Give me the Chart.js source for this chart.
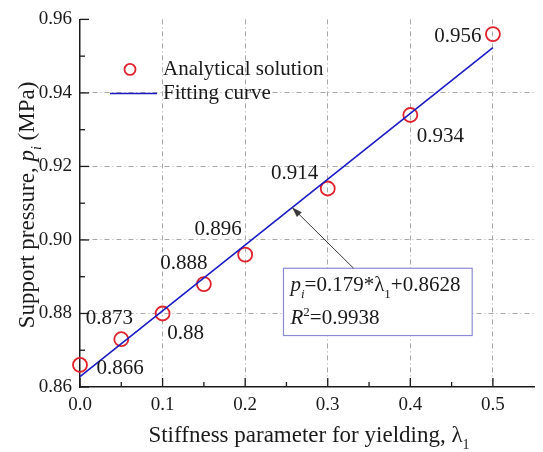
<!DOCTYPE html>
<html>
<head>
<meta charset="utf-8">
<script src="https://cdn.jsdelivr.net/npm/chart.js@4/dist/chart.umd.min.js"></script>
<style>
  html, body { margin: 0; padding: 0; background: #fff; }
  canvas { display: block; }
</style>
</head>
<body>
<canvas id="c" width="543" height="452"></canvas>
<script>
// Analytical support pressure against stiffness parameter
const stiffness = [0, 0.05, 0.1, 0.15, 0.2, 0.3, 0.4, 0.5];
const pressure = [0.866, 0.873, 0.88, 0.888, 0.896, 0.914, 0.934, 0.956];

// Linear fit p = 0.179*λ + 0.8628, end points
const fitStiffness = [0, 0.5];
const fitPressure = [0.8628, 0.9523];

// Axis ticks
const xTickValues = [0, 0.1, 0.2, 0.3, 0.4, 0.5];
const xTickLabels = ['0.0', '0.1', '0.2', '0.3', '0.4', '0.5'];
const xMinorValues = [0.05, 0.15, 0.25, 0.35, 0.45];
const yTickValues = [0.86, 0.88, 0.90, 0.92, 0.94, 0.96];
const yTickLabels = ['0.86', '0.88', '0.90', '0.92', '0.94', '0.96'];
const yMinorValues = [0.87, 0.89, 0.91, 0.93, 0.95];

// Where each value label sits relative to its point (px)
const labelOffsets = [[40, 4], [-12, -21], [23, 20], [-20, -21], [-27, -25], [-33, -15], [30, 22], [-35, 2]];

const SERIF = '"Liberation Serif", "Times New Roman", serif';
const INK = '#1a1a1a';
const RED = '#e0222c';
const BLUE = '#1a1ac4';

function measureRuns(ctx, runs, size) {
  let total = 0;
  const out = runs.map(r => {
    const s = (r.sub || r.sup) ? Math.round(size * 0.6) : size;
    const font = (r.italic ? 'italic ' : '') + s + 'px ' + SERIF;
    ctx.font = font;
    const width = ctx.measureText(r.t).width;
    total += width;
    return Object.assign({}, r, { font, width, dy: r.sub ? size * 0.3 : (r.sup ? -size * 0.38 : 0) });
  });
  return { out, total };
}

function drawRich(ctx, runs, x, y, size, align) {
  const { out, total } = measureRuns(ctx, runs, size);
  let cx = align === 'center' ? x - total / 2 : (align === 'right' ? x - total : x);
  ctx.textAlign = 'left';
  ctx.textBaseline = 'alphabetic';
  for (const r of out) {
    ctx.font = r.font;
    ctx.fillText(r.t, cx, y + r.dy);
    cx += r.width;
  }
}

const decorations = {
  id: 'decorations',
  afterDraw(chart) {
    const { ctx, chartArea: area } = chart;
    const xs = chart.scales.x, ys = chart.scales.y;
    ctx.save();

    // inward ticks
    ctx.strokeStyle = INK;
    ctx.lineWidth = 1.3;
    const tick = (x1, y1, x2, y2) => { ctx.beginPath(); ctx.moveTo(x1, y1); ctx.lineTo(x2, y2); ctx.stroke(); };
    xTickValues.forEach(v => { const p = xs.getPixelForValue(v); tick(p, area.bottom, p, area.bottom - 9); });
    xMinorValues.forEach(v => { const p = xs.getPixelForValue(v); tick(p, area.bottom, p, area.bottom - 5); });
    yTickValues.forEach(v => { const p = ys.getPixelForValue(v); tick(area.left, p, area.left + 9, p); });
    yMinorValues.forEach(v => { const p = ys.getPixelForValue(v); tick(area.left, p, area.left + 5, p); });

    // value labels
    const meta = chart.getDatasetMeta(0);
    ctx.fillStyle = INK;
    ctx.font = '21px ' + SERIF;
    ctx.textAlign = 'center';
    ctx.textBaseline = 'middle';
    meta.data.forEach((pt, i) => {
      const [dx, dy] = labelOffsets[i];
      ctx.fillText(String(pressure[i]), pt.x + dx, pt.y + dy);
    });

    // legend
    const lx = area.left + 50, ly1 = area.top + 50, ly2 = area.top + 74;
    ctx.strokeStyle = RED;
    ctx.lineWidth = 1.8;
    ctx.beginPath(); ctx.arc(lx, ly1, 5.5, 0, Math.PI * 2); ctx.stroke();
    ctx.strokeStyle = BLUE;
    ctx.lineWidth = 1.5;
    ctx.beginPath(); ctx.moveTo(area.left + 30, ly2); ctx.lineTo(area.left + 77, ly2); ctx.stroke();
    ctx.fillStyle = INK;
    ctx.font = '21px ' + SERIF;
    ctx.textAlign = 'left';
    ctx.textBaseline = 'middle';
    ctx.fillText('Analytical solution', area.left + 83, ly1);
    ctx.fillText('Fitting curve', area.left + 83, ly2);

    // fit equation box with arrow to the line
    const bx1 = xs.getPixelForValue(0.2464), bx2 = xs.getPixelForValue(0.4749);
    const by1 = ys.getPixelForValue(0.8923), by2 = ys.getPixelForValue(0.874);
    ctx.fillStyle = '#fff';
    ctx.fillRect(bx1, by1, bx2 - bx1, by2 - by1);
    ctx.strokeStyle = '#8c8cd6';
    ctx.lineWidth = 1.2;
    ctx.strokeRect(bx1, by1, bx2 - bx1, by2 - by1);

    const ax1 = xs.getPixelForValue(0.3313), ay1 = by1;
    const tipL = 0.257;
    const ax2 = xs.getPixelForValue(tipL), ay2 = ys.getPixelForValue(0.8628 + 0.179 * tipL);
    ctx.strokeStyle = '#3a3a3a';
    ctx.fillStyle = '#3a3a3a';
    ctx.lineWidth = 1;
    ctx.beginPath(); ctx.moveTo(ax1, ay1); ctx.lineTo(ax2, ay2); ctx.stroke();
    const ang = Math.atan2(ay2 - ay1, ax2 - ax1);
    const hl = 10, hw = 3.5;
    ctx.beginPath();
    ctx.moveTo(ax2, ay2);
    ctx.lineTo(ax2 - hl * Math.cos(ang) + hw * Math.sin(ang), ay2 - hl * Math.sin(ang) - hw * Math.cos(ang));
    ctx.lineTo(ax2 - hl * Math.cos(ang) - hw * Math.sin(ang), ay2 - hl * Math.sin(ang) + hw * Math.cos(ang));
    ctx.closePath(); ctx.fill();

    ctx.fillStyle = INK;
    drawRich(ctx, [
      { t: 'p', italic: true }, { t: 'i', italic: true, sub: true },
      { t: '=0.179*λ' }, { t: '1', sub: true }, { t: '+0.8628' }
    ], bx1 + 7, by1 + 23, 21, 'left');
    drawRich(ctx, [
      { t: 'R', italic: true }, { t: '2', sup: true }, { t: '=0.9938' }
    ], bx1 + 7, by1 + 56, 21, 'left');

    // axis titles
    drawRich(ctx, [
      { t: 'Stiffness parameter for yielding, λ' }, { t: '1', sub: true }
    ], 309, 442, 23, 'center');
    ctx.save();
    ctx.translate(34, 205);
    ctx.rotate(-Math.PI / 2);
    drawRich(ctx, [
      { t: 'Support pressure, ' }, { t: 'p', italic: true }, { t: 'i', italic: true, sub: true }, { t: ' (MPa)' }
    ], 0, 0, 23, 'center');
    ctx.restore();

    ctx.restore();
  }
};

const gridColor = '#a8a8a8';

new Chart(document.getElementById('c'), {
  type: 'scatter',
  data: {
    datasets: [
      {
        label: 'Analytical solution',
        data: stiffness.map((x, i) => ({ x, y: pressure[i] })),
        pointStyle: 'circle',
        pointRadius: 7,
        pointHoverRadius: 7,
        pointBorderWidth: 1.8,
        borderColor: RED,
        backgroundColor: 'rgba(0,0,0,0)',
        showLine: false,
        clip: false,
        order: 1
      },
      {
        label: 'Fitting curve',
        type: 'line',
        data: fitStiffness.map((x, i) => ({ x, y: fitPressure[i] })),
        borderColor: BLUE,
        borderWidth: 1.6,
        pointRadius: 0,
        fill: false,
        clip: false,
        order: 0
      }
    ]
  },
  options: {
    responsive: false,
    animation: false,
    events: [],
    layout: { padding: { top: 16, right: 3, left: 0, bottom: 0 } },
    plugins: { legend: { display: false }, tooltip: { enabled: false } },
    scales: {
      x: {
        type: 'linear',
        min: 0,
        max: 0.55,
        afterBuildTicks: s => { s.ticks = xTickValues.map(v => ({ value: v })); },
        afterFit: s => { s.height = 65; },
        ticks: {
          padding: 7,
          color: INK,
          font: { family: SERIF, size: 19 },
          callback: v => xTickLabels[xTickValues.findIndex(t => Math.abs(t - v) < 1e-9)]
        },
        grid: {
          drawTicks: false,
          color: c => (c.tick && Math.abs(c.tick.value) < 1e-9) ? 'rgba(0,0,0,0)' : gridColor,
          lineWidth: 1
        },
        border: { display: true, color: INK, width: 1.5, dash: [5, 3, 1, 3] }
      },
      y: {
        type: 'linear',
        min: 0.86,
        max: 0.96,
        afterBuildTicks: s => { s.ticks = yTickValues.map(v => ({ value: v })); },
        afterFit: s => { s.width = 80; },
        ticks: {
          padding: 8,
          color: INK,
          font: { family: SERIF, size: 19 },
          callback: v => yTickLabels[yTickValues.findIndex(t => Math.abs(t - v) < 1e-9)]
        },
        grid: {
          drawTicks: false,
          color: c => (c.tick && (Math.abs(c.tick.value - 0.86) < 1e-9 || Math.abs(c.tick.value - 0.96) < 1e-9)) ? 'rgba(0,0,0,0)' : gridColor,
          lineWidth: 1
        },
        border: { display: true, color: INK, width: 1.5, dash: [5, 3, 1, 3] }
      }
    }
  },
  plugins: [decorations]
});
</script>
</body>
</html>
